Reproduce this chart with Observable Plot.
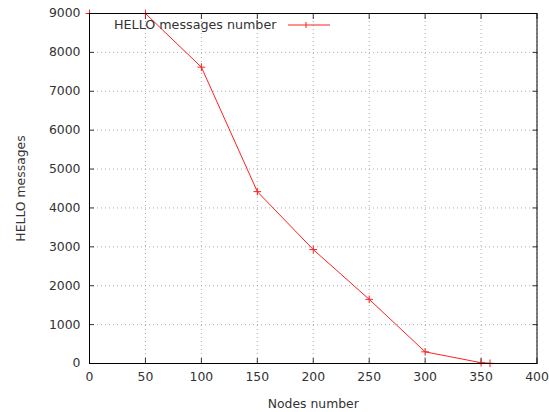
<!DOCTYPE html>
<html><head><meta charset="utf-8">
<script src="https://cdn.jsdelivr.net/npm/d3@7"></script>
<script src="https://cdn.jsdelivr.net/npm/@observablehq/plot@0.6"></script>
<style>
body{margin:0;background:#fff;}
#wrap{position:relative;width:549px;height:412px;font-family:"DejaVu Sans",sans-serif;}
#legend{position:absolute;left:114px;top:17px;font-size:12.7px;color:#333;display:flex;align-items:center;}
</style>
</head><body>
<div id="wrap"><div id="legend"><span>HELLO messages number</span><svg width="46" height="12" style="margin-left:10px"><line x1="2" y1="6" x2="44" y2="6" stroke="#ff2020" stroke-width="1"/><line x1="20" y1="3" x2="20" y2="9" stroke="#ff2020"/></svg></div></div>
<script>
const nodes = [0, 50, 100, 150, 200, 250, 300, 350, 358];
const hello = [9000, 9000, 7620, 4420, 2930, 1650, 300, 20, 5];
const xTicks = [0, 50, 100, 150, 200, 250, 300, 350, 400];
const yTicks = [0, 1000, 2000, 3000, 4000, 5000, 6000, 7000, 8000, 9000];
const data = nodes.map((n, i) => ({n, v: hello[i]}));

const chart = Plot.plot({
  width: 549, height: 412,
  marginLeft: 89, marginRight: 12.5, marginTop: 13, marginBottom: 49,
  style: {fontFamily: "DejaVu Sans, sans-serif", fontSize: "12.4px", color: "#333", background: "#fff", overflow: "visible"},
  x: {domain: [0, 400]},
  y: {domain: [0, 9000]},
  marks: [
    Plot.gridX(xTicks, {stroke: "#999", strokeOpacity: 0.8, strokeDasharray: "1,3"}),
    Plot.gridY(yTicks, {stroke: "#999", strokeOpacity: 0.8, strokeDasharray: "1,3"}),
    Plot.axisX(xTicks, {anchor: "bottom", tickSize: -5, tickPadding: 14, tickFormat: d3.format("d"), label: "Nodes number", labelAnchor: "center", labelArrow: "none", labelOffset: 44}),
    Plot.axisX(xTicks, {anchor: "top", tickSize: -5, tickFormat: () => "", label: null}),
    Plot.axisY(yTicks, {anchor: "left", tickSize: -5, tickPadding: 14, tickFormat: d3.format("d"), label: "HELLO messages", labelAnchor: "center", labelArrow: "none", labelOffset: 73}),
    Plot.axisY(yTicks, {anchor: "right", tickSize: -5, tickFormat: () => "", label: null}),
    Plot.line(data, {x: "n", y: "v", stroke: "#ff2020", strokeWidth: 1, clip: true}),
    Plot.dot(data, {x: "n", y: "v", symbol: "plus", r: 2.6, stroke: "#ff2020", strokeWidth: 1}),
    Plot.frame({stroke: "#000", strokeWidth: 1})
  ]
});
document.getElementById("wrap").prepend(chart);
</script>
</body></html>
